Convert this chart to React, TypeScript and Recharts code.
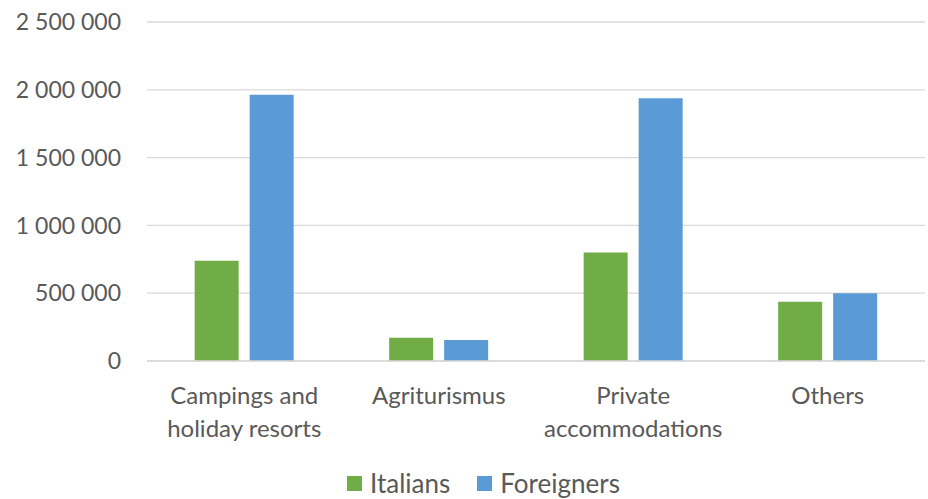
import { Bar, BarChart, CartesianGrid, Legend, XAxis, YAxis } from "recharts";

const categories = [
  ["Campings and", "holiday resorts"],
  ["Agriturismus"],
  ["Private", "accommodations"],
  ["Others"]
];
const italians = [739000, 172000, 800000, 437000];
const foreigners = [1964000, 155000, 1937000, 500000];
const yTicks = [0, 500000, 1000000, 1500000, 2000000, 2500000];

const seriesInfo = [
  { key: "italians", name: "Italians", color: "#70AD47" },
  { key: "foreigners", name: "Foreigners", color: "#5B9BD5" }
];

const FONT = "Lato, 'Open Sans', sans-serif";
const TEXT = "#595959";

function formatNumber(value: number) {
  return String(value).replace(/\B(?=(\d{3})+(?!\d))/g, " ");
}

const chartData = categories.map((lines, i) => ({
  label: lines.join("\n"),
  italians: italians[i],
  foreigners: foreigners[i]
}));

function CategoryTick(props: any) {
  const { x, y, payload } = props;
  const lines = String(payload.value).split("\n");
  return (
    <g transform={`translate(${x},${y})`}>
      {lines.map((line, i) => (
        <text
          key={i}
          x={0}
          y={i * 33}
          dy={35}
          textAnchor="middle"
          fill={TEXT}
          fontSize={24}
          fontFamily={FONT}
        >
          {line}
        </text>
      ))}
    </g>
  );
}

function LegendContent() {
  return (
    <div
      style={{
        display: "flex",
        justifyContent: "center",
        gap: 27,
        paddingLeft: 42,
        fontFamily: FONT,
        fontSize: 26,
        color: TEXT
      }}
    >
      {seriesInfo.map((s) => (
        <div key={s.key} style={{ display: "flex", alignItems: "center", gap: 8 }}>
          <span style={{ width: 15, height: 15, background: s.color, display: "inline-block" }} />
          <span>{s.name}</span>
        </div>
      ))}
    </div>
  );
}

export default function App() {
  return (
    <div style={{ position: "absolute", left: 0, top: 0, width: 928, height: 499, background: "#fff" }}>
      <BarChart
        width={928}
        height={499}
        data={chartData}
        margin={{ top: 22, right: 3, bottom: 76, left: 0 }}
        barCategoryGap="24.5%"
        barGap={11}
      >
        <CartesianGrid vertical={false} stroke="#d9d9d9" strokeWidth={1.3} />
        <XAxis
          dataKey="label"
          tick={<CategoryTick />}
          tickLine={false}
          axisLine={{ stroke: "#d9d9d9", strokeWidth: 1.3 }}
          interval={0}
        />
        <YAxis
          width={147}
          domain={[0, 2500000]}
          ticks={yTicks}
          tickFormatter={formatNumber}
          axisLine={false}
          tickLine={false}
          tickSize={0}
          tickMargin={26}
          tick={{ fill: TEXT, fontSize: 23, fontFamily: FONT }}
        />
        <Legend
          verticalAlign="bottom"
          content={<LegendContent />}
          wrapperStyle={{ bottom: 0 }}
        />
        {seriesInfo.map((s) => (
          <Bar key={s.key} dataKey={s.key} name={s.name} fill={s.color} isAnimationActive={false} />
        ))}
      </BarChart>
    </div>
  );
}
